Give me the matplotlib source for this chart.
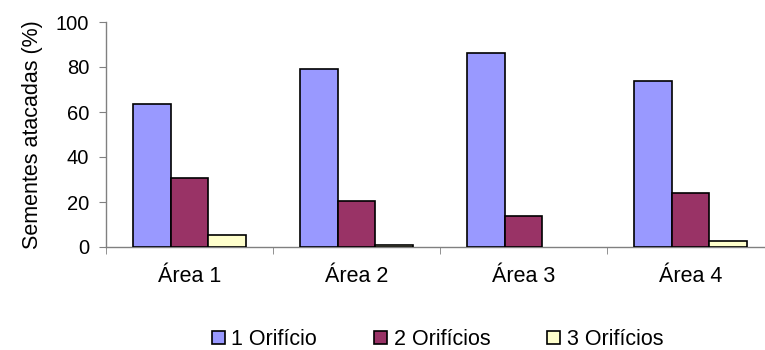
import matplotlib
matplotlib.use("Agg")
import matplotlib.pyplot as plt
import numpy as np

plt.rcParams['font.family'] = ['Liberation Sans', 'DejaVu Sans']

areas = ["Área 1", "Área 2", "Área 3", "Área 4"]
series_names = ["1 Orifício", "2 Orifícios", "3 Orifícios"]
um_orificio = [63.7, 79.0, 86.2, 73.8]
dois_orificios = [30.8, 20.3, 13.9, 24.0]
tres_orificios = [5.2, 0.7, 0.0, 2.7]
cores = ["#9999FF", "#993366", "#FFFFCC"]

fig = plt.figure(figsize=(7.65, 3.5), dpi=100)
ax = fig.add_axes([106 / 765, 103 / 350, 668 / 765, 225 / 350])

x = np.arange(len(areas))
w = 0.225
valores = [um_orificio, dois_orificios, tres_orificios]
for i, (vals, cor, nome) in enumerate(zip(valores, cores, series_names)):
    barras = ax.bar(x + (i - 1) * w, vals, w, color=cor, edgecolor="black",
                    linewidth=1.2, label=nome, zorder=3)
    # bar of height zero is not drawn in the original
    for b, v in zip(barras, vals):
        if v == 0:
            b.set_visible(False)

ax.set_xlim(-0.5, len(areas) - 0.5)
ax.set_ylim(0, 100)
ax.set_yticks(np.arange(0, 101, 20))
ax.set_xticks(x)
ax.set_xticklabels(areas, fontsize=15.5)
ax.set_xticks(np.arange(-0.5, len(areas), 1), minor=True)
ax.tick_params(axis="x", which="major", length=0, pad=14)
ax.tick_params(axis="x", which="minor", length=5, direction="out", color="#808080")
ax.tick_params(axis="y", labelsize=14.5, length=5, direction="out", color="#808080", pad=7)

for s in ["top", "right"]:
    ax.spines[s].set_visible(False)
for s in ["left", "bottom"]:
    ax.spines[s].set_color("#808080")
    ax.spines[s].set_linewidth(1.0)

ax.set_ylabel("Sementes atacadas (%)", fontsize=15.5, labelpad=9)

handles, labels = ax.get_legend_handles_labels()
fig.legend(handles, labels, loc="center", bbox_to_anchor=(0.572, 0.03),
           ncol=3, frameon=False, fontsize=15.5, handlelength=0.6,
           handleheight=0.6, handletextpad=0.3, columnspacing=2.65,
           borderaxespad=0, borderpad=0)

fig.savefig("out.png", dpi=100)
